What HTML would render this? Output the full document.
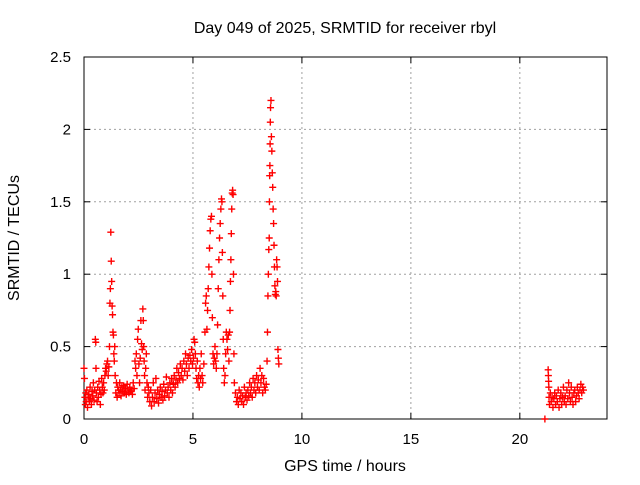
<!DOCTYPE html>
<html><head><meta charset="utf-8"><style>
body{margin:0;background:#fff}
svg text{font-family:"Liberation Sans",Arial,sans-serif;font-size:15px;fill:#000}
svg text.big{font-size:16px}
</style></head><body>
<svg id="chart" width="640" height="480" viewBox="0 0 640 480" xmlns="http://www.w3.org/2000/svg">
<rect width="640" height="480" fill="#fff"/>
<text class="big" x="345" y="33" text-anchor="middle">Day 049 of 2025, SRMTID for receiver rbyl</text>
<text class="big" x="345" y="471" text-anchor="middle">GPS time / hours</text>
<text class="big" x="0" y="0" text-anchor="middle" transform="translate(19,238) rotate(-90)">SRMTID / TECUs</text>
<g id="grid"></g><g id="axes"></g><g id="marks"></g>
</svg>
<script>
const xTicks=[0,5,10,15,20];
const yTicks=[0,0.5,1,1.5,2,2.5];
const yTickLabels=["0","0.5","1","1.5","2","2.5"];
const hours=[0.00,0.02,0.04,0.06,0.08,0.10,0.13,0.16,0.19,0.22,0.25,0.28,0.31,0.34,0.37,0.40,0.43,0.46,0.49,0.52,0.54,0.55,0.57,0.60,0.63,0.66,0.69,0.72,0.75,0.78,0.81,0.84,0.87,0.90,0.93,0.96,0.99,1.02,1.05,1.08,1.11,1.14,1.17,1.19,1.21,1.23,1.25,1.27,1.29,1.31,1.33,1.35,1.37,1.39,1.41,1.43,1.46,1.49,1.52,1.55,1.58,1.61,1.64,1.67,1.70,1.74,1.78,1.82,1.86,1.90,1.94,1.98,2.02,2.06,2.10,2.14,2.18,2.22,2.26,2.30,2.34,2.37,2.40,2.43,2.46,2.49,2.52,2.55,2.58,2.61,2.64,2.67,2.70,2.72,2.74,2.76,2.78,2.80,2.83,2.86,2.89,2.92,2.95,2.98,3.02,3.06,3.10,3.14,3.18,3.22,3.26,3.30,3.34,3.38,3.42,3.46,3.50,3.54,3.58,3.62,3.66,3.70,3.74,3.78,3.82,3.86,3.90,3.94,3.98,4.02,4.06,4.10,4.14,4.18,4.22,4.26,4.30,4.34,4.38,4.42,4.46,4.50,4.54,4.58,4.62,4.66,4.70,4.74,4.78,4.82,4.86,4.90,4.94,4.98,5.02,5.05,5.08,5.11,5.14,5.17,5.20,5.23,5.26,5.29,5.32,5.35,5.38,5.42,5.45,5.50,5.55,5.58,5.61,5.64,5.67,5.70,5.73,5.76,5.79,5.82,5.85,5.87,5.89,5.92,5.95,5.98,6.01,6.04,6.07,6.10,6.13,6.16,6.19,6.22,6.25,6.28,6.31,6.33,6.35,6.37,6.39,6.41,6.44,6.47,6.50,6.53,6.56,6.59,6.62,6.65,6.68,6.70,6.72,6.74,6.76,6.78,6.80,6.82,6.84,6.86,6.88,6.90,6.95,7.00,7.04,7.08,7.12,7.16,7.20,7.24,7.28,7.32,7.36,7.40,7.44,7.48,7.52,7.56,7.60,7.64,7.68,7.72,7.76,7.80,7.84,7.88,7.92,7.96,8.00,8.04,8.08,8.12,8.16,8.20,8.24,8.28,8.32,8.36,8.40,8.42,8.44,8.46,8.48,8.50,8.51,8.52,8.53,8.54,8.55,8.56,8.58,8.60,8.62,8.64,8.66,8.68,8.70,8.72,8.74,8.76,8.78,8.80,8.82,8.84,8.86,8.88,8.90,8.92,8.94];
const tecu=[0.35,0.28,0.15,0.10,0.18,0.12,0.20,0.08,0.15,0.17,0.12,0.22,0.14,0.10,0.19,0.16,0.25,0.13,0.20,0.55,0.53,0.35,0.18,0.12,0.22,0.15,0.26,0.20,0.10,0.17,0.28,0.22,0.18,0.25,0.20,0.30,0.35,0.33,0.38,0.40,0.30,0.36,0.50,0.80,0.90,1.29,1.09,0.95,0.78,0.72,0.60,0.58,0.45,0.40,0.50,0.30,0.18,0.25,0.15,0.22,0.20,0.18,0.25,0.20,0.16,0.22,0.19,0.23,0.18,0.21,0.17,0.24,0.20,0.18,0.22,0.19,0.20,0.17,0.25,0.21,0.40,0.35,0.45,0.30,0.55,0.62,0.38,0.25,0.42,0.68,0.52,0.48,0.76,0.68,0.50,0.40,0.30,0.20,0.35,0.45,0.25,0.15,0.22,0.18,0.12,0.20,0.09,0.15,0.25,0.12,0.18,0.28,0.14,0.20,0.11,0.17,0.22,0.15,0.19,0.13,0.24,0.16,0.20,0.29,0.18,0.22,0.15,0.25,0.20,0.28,0.18,0.24,0.30,0.22,0.27,0.35,0.25,0.32,0.28,0.38,0.30,0.35,0.27,0.40,0.33,0.45,0.38,0.30,0.42,0.35,0.44,0.40,0.48,0.38,0.42,0.55,0.53,0.45,0.35,0.28,0.40,0.25,0.30,0.22,0.35,0.28,0.45,0.30,0.25,0.38,0.60,0.80,0.85,0.62,0.75,0.90,1.05,1.18,1.30,1.38,1.40,1.00,0.70,0.45,0.38,0.42,0.50,0.40,0.35,0.45,0.65,0.90,1.10,1.25,1.35,1.45,1.52,1.50,1.15,0.85,0.55,0.35,0.25,0.30,0.45,0.60,0.55,0.48,0.58,0.40,0.60,0.75,0.95,1.10,1.28,1.45,1.56,1.58,1.55,1.00,0.45,0.25,0.18,0.12,0.15,0.10,0.20,0.14,0.18,0.12,0.16,0.10,0.22,0.15,0.18,0.13,0.20,0.16,0.25,0.18,0.22,0.15,0.28,0.20,0.25,0.18,0.30,0.22,0.27,0.20,0.35,0.25,0.30,0.18,0.28,0.22,0.20,0.24,0.40,0.60,0.85,1.00,1.17,1.25,1.50,1.68,1.75,1.90,2.05,2.15,2.20,1.95,1.85,1.70,1.60,1.45,1.35,1.20,1.05,0.92,0.86,0.88,0.85,1.10,1.05,0.95,0.48,0.42,0.38,0.35];
const lateHours=[21.15,21.30,21.31,21.32,21.33,21.34,21.36,21.40,21.44,21.48,21.52,21.56,21.60,21.64,21.68,21.72,21.76,21.80,21.84,21.88,21.92,21.96,22.00,22.04,22.08,22.12,22.16,22.20,22.24,22.28,22.32,22.36,22.40,22.44,22.48,22.52,22.56,22.60,22.64,22.68,22.72,22.76,22.80,22.84,22.88,22.92];
const lateTecu=[0.00,0.34,0.30,0.26,0.22,0.15,0.10,0.18,0.12,0.15,0.08,0.14,0.18,0.10,0.16,0.12,0.20,0.08,0.14,0.18,0.10,0.15,0.22,0.12,0.16,0.10,0.20,0.14,0.25,0.18,0.12,0.22,0.15,0.10,0.18,0.20,0.12,0.16,0.22,0.18,0.14,0.20,0.24,0.18,0.22,0.20];
const X0=84,X1=607,Y0=419,Y1=57,XMAX=24,YMAX=2.5;
const xs=v=>X0+(X1-X0)*v/XMAX;
const ys=v=>Y0-(Y0-Y1)*v/YMAX;
const NS="http://www.w3.org/2000/svg";
function mk(tag,attrs,parent){const e=document.createElementNS(NS,tag);for(const k in attrs)e.setAttribute(k,attrs[k]);parent.appendChild(e);return e;}
const grid=document.getElementById('grid'),axes=document.getElementById('axes'),marks=document.getElementById('marks');
xTicks.forEach(t=>{const x=xs(t);
 if(t>0){const g=mk('line',{x1:x,x2:x,y1:Y1,y2:Y0,stroke:'#a0a0a0','stroke-dasharray':'2,3'},grid);
 
 }
 mk('line',{x1:x,x2:x,y1:Y0,y2:Y0-6,stroke:'#000'},axes);
 mk('line',{x1:x,x2:x,y1:Y1,y2:Y1+6,stroke:'#000'},axes);
 const l=mk('text',{x:x,y:444,'text-anchor':'middle'},axes);l.textContent=String(t);
 
 
});
yTicks.forEach((t,i)=>{const y=ys(t);
 if(t>0&&t<YMAX){const g=mk('line',{x1:X0,x2:X1,y1:y,y2:y,stroke:'#a0a0a0','stroke-dasharray':'2,3'},grid);
 
 }
 mk('line',{x1:X0,x2:X0+6,y1:y,y2:y,stroke:'#000'},axes);
 mk('line',{x1:X1,x2:X1-6,y1:y,y2:y,stroke:'#000'},axes);
 const l=mk('text',{x:X0-13,y:y+5,'text-anchor':'end'},axes);l.textContent=yTickLabels[i];
 
 
});
const frame=mk('rect',{x:X0,y:Y1,width:X1-X0,height:Y0-Y1,fill:'none',stroke:'#000'},axes);


function plotSeries(hs,vs){
 hs.forEach((h,i)=>{if(vs[i]===undefined)return;const x=xs(h),y=ys(vs[i]);
  const p=mk('path',{d:`M${x-3.5},${y}H${x+3.5}M${x},${y-3.5}V${y+3.5}`,stroke:'#ff0000','stroke-width':1.4,fill:'none'},marks);
  
  
 });
}
plotSeries(hours,tecu);
plotSeries(lateHours,lateTecu);
</script>
</body></html>
